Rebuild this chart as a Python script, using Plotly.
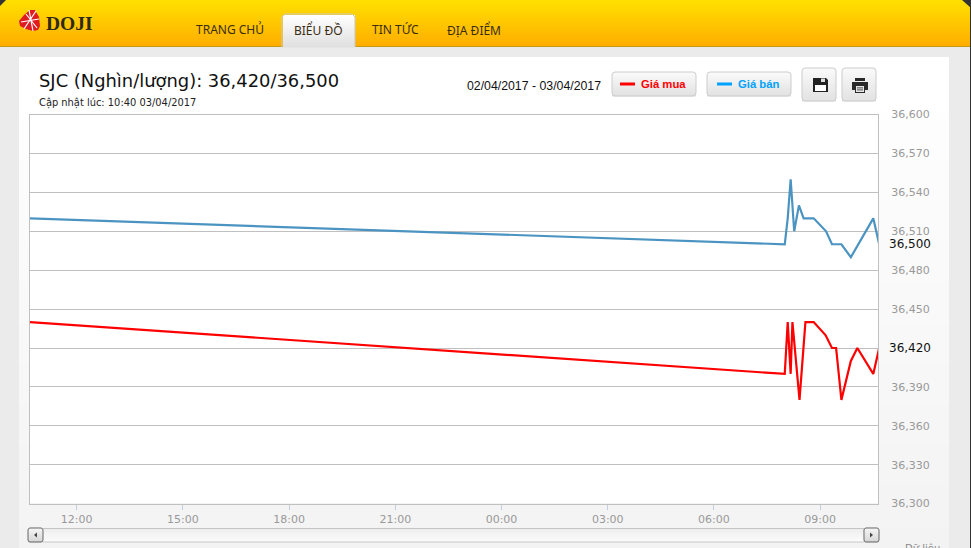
import plotly.graph_objects as go

W, H = 971, 548

# ---- data ----
sell_times = ["2017-04-02 10:40", "2017-04-03 08:00", "2017-04-03 08:05", "2017-04-03 08:10",
              "2017-04-03 08:16", "2017-04-03 08:24", "2017-04-03 08:32", "2017-04-03 08:49",
              "2017-04-03 09:10", "2017-04-03 09:20", "2017-04-03 09:36", "2017-04-03 09:52",
              "2017-04-03 10:30", "2017-04-03 10:40"]
sell_values = [36520, 36500, 36520, 36550, 36510, 36530, 36520, 36520,
               36510, 36500, 36500, 36490, 36520, 36500]
buy_times = ["2017-04-02 10:40", "2017-04-03 08:00", "2017-04-03 08:05", "2017-04-03 08:10",
             "2017-04-03 08:13", "2017-04-03 08:25", "2017-04-03 08:35", "2017-04-03 08:49",
             "2017-04-03 09:09", "2017-04-03 09:20", "2017-04-03 09:27", "2017-04-03 09:36",
             "2017-04-03 09:52", "2017-04-03 10:03", "2017-04-03 10:30", "2017-04-03 10:40"]
buy_values = [36440, 36400, 36440, 36400, 36440, 36380, 36440, 36440,
              36430, 36420, 36420, 36380, 36410, 36420, 36400, 36420]
y_ticks = [36300, 36330, 36360, 36390, 36420, 36450, 36480, 36510, 36540, 36570, 36600]
x_range = ["2017-04-02 10:41", "2017-04-03 10:38"]
nav_labels = ["TRANG CHỦ", "BIỂU ĐỒ", "TIN TỨC", "ĐỊA ĐIỂM"]
date_range = "02/04/2017 - 03/04/2017"
updated = "Cập nhật lúc: 10:40 03/04/2017"
legend_buy, legend_sell = "Giá mua", "Giá bán"

shapes, notes = [], []


def px(x):
    return x / W


def py(y):
    return 1 - y / H


def rect(x0, y0, x1, y1, fill, line=None, lw=1):
    shapes.append(dict(type="rect", xref="paper", yref="paper", layer="below",
                       x0=px(x0), x1=px(x1), y0=py(y0), y1=py(y1), fillcolor=fill,
                       line=dict(color=line or fill, width=lw if line else 0)))


def path(points, fill=None, line=None, lw=1, close=True):
    d = "M " + " L ".join(f"{px(a):.5f},{py(b):.5f}" for a, b in points) + (" Z" if close else "")
    shapes.append(dict(type="path", xref="paper", yref="paper", layer="below", path=d,
                       fillcolor=fill or "rgba(0,0,0,0)",
                       line=dict(color=line or "rgba(0,0,0,0)", width=lw if line else 0)))


def mix(c0, c1, t):
    return "rgb(" + ",".join(str(round(a + (b - a) * t)) for a, b in zip(c0, c1)) + ")"


def grad(x0, y0, x1, y1, c0, c1):
    n = max(1, int(y1 - y0))
    step = (y1 - y0) / n
    for i in range(n):
        rect(x0, y0 + i * step, x1, y0 + (i + 1) * step + 0.4, mix(c0, c1, i / max(1, n - 1)))


def rounded(x0, y0, x1, y1, r, line, lw=1):
    c = 0.3 * r
    pts = [(x0 + r, y0), (x1 - r, y0), (x1 - c, y0 + c), (x1, y0 + r), (x1, y1 - r), (x1 - c, y1 - c),
           (x1 - r, y1), (x0 + r, y1), (x0 + c, y1 - c), (x0, y1 - r), (x0, y0 + r), (x0 + c, y0 + c)]
    path(pts, line=line, lw=lw)


def text(x, y, s, size, color, family="DejaVu Sans", anchor="left", bold=False):
    notes.append(dict(xref="paper", yref="paper", x=px(x), y=py(y), text=f"<b>{s}</b>" if bold else s,
                      showarrow=False, xanchor=anchor, yanchor="middle", align="left",
                      font=dict(size=size, color=color, family=family),
                      borderpad=0, borderwidth=0))


# page background and header
rect(0, 0, W, H, "#ebebeb")
grad(0, 0, W, 46, (255, 224, 0), (255, 174, 0))
rect(0, 46, W, 47, "#c99a10")
path([(0, 0), (6, 0), (0, 6)], fill="#333333")
path([(962, 0), (971, 0), (971, 8)], fill="#333333")
rect(970, 0, 971, H, "#333333")

# logo
path([(19, 21), (24, 15), (30, 10), (35, 10), (39, 17), (40, 26), (38, 30), (33, 31), (26, 29), (20, 26)],
     fill="#e11b22")
for a, b in [((21, 22), (39, 19)), ((29, 10), (33, 31)), ((36, 11), (24, 29)), ((26, 14), (37, 28))]:
    path([a, b], line="#ffffff", lw=1.2, close=False)
text(46, 24, "DOJI", 19.5, "#2e2a18", "Liberation Serif", bold=True)

# tabs
grad(283, 15, 355, 47, (255, 255, 255), (224, 224, 224))
path([(282, 47), (282, 17), (285, 14), (352, 14), (355, 17), (355, 47)], line="#c8c8c8", close=False)
for x, s in zip([229.5, 318, 395, 474], nav_labels):
    text(x, 30, s, 12, "#3b2c10", "Noto Sans", "center")

# content panel
grad(19, 57, 949, H, (255, 255, 255), (243, 243, 243))
rect(19, 57, 949, 112, "#ffffff")
rect(30, 114, 878, 503, "#ffffff")

# heading
text(39, 80.5, f"SJC (Nghìn/lượng): {buy_values[-1]:,}/{sell_values[-1]:,}", 17.9, "#111111")
text(39, 103.5, updated, 9.9, "#222222")
text(467, 86, date_range, 12.3, "#111111", "Liberation Sans")

# buttons
for x0, x1, y0, y1 in [(612, 696, 72, 96), (707, 791, 72, 96), (802, 836, 68, 101), (842, 876, 68, 101)]:
    grad(x0, y0, x1, y1, (250, 250, 250), (226, 226, 226))
    rounded(x0, y0, x1, y1, 3, "#cccccc")
rect(620, 82.5, 635, 85.5, "#ff0000")
text(641, 84, legend_buy, 11.3, "#ff0000", "Liberation Sans", bold=True)
rect(717, 82.5, 732, 85.5, "#00a2ff")
text(738, 84, legend_sell, 11.3, "#00a2ff", "Liberation Sans", bold=True)

# save icon
path([(813, 78), (826, 78), (828, 80), (828, 92), (813, 92)], fill="#222222")
rect(815, 85, 826, 91, "#ffffff")
rect(821, 78.5, 825, 82, "#dddddd")
# print icon
rect(855, 78, 865, 81, "#2a2a2a")
path([(852, 82), (868, 82), (868, 90), (852, 90)], fill="#2a2a2a")
rect(855, 86, 865, 93, "#2a2a2a")
rect(856, 86, 864, 92, "#e6e6e6")
for yy in (87.5, 89.5):
    rect(857, yy, 863, yy + 0.8, "#2a2a2a")

# scrollbar
grad(43, 529, 864, 542, (238, 238, 238), (252, 252, 252))
rect(43, 528, 864, 529, "#c4c4c4")
rect(43, 541.5, 864, 542.5, "#c4c4c4")
for x0, x1 in [(28, 43), (864, 879)]:
    grad(x0, 528, x1, 542, (245, 245, 245), (215, 215, 215))
    rounded(x0, 528, x1, 542, 2, "#666666")
path([(37, 532.5), (37, 537.5), (34, 535)], fill="#444444")
path([(870, 532.5), (870, 537.5), (873, 535)], fill="#444444")
text(922, 549, "Dữ liệu", 10, "#888888", "DejaVu Sans", "center")

# values attached to the last points replace their tick labels
latest = (buy_values[-1], sell_values[-1])
for v in latest:
    notes.append(dict(xref="paper", yref="y", x=px(888), y=v, text=f"{v:,}", showarrow=False,
                      xanchor="left", yanchor="middle",
                      font=dict(size=12, color="#111111", family="DejaVu Sans"), borderpad=0))
y_labels = ["" if v in latest else f"{v:,}" for v in y_ticks]

fig = go.Figure()
fig.add_trace(go.Scatter(x=sell_times, y=sell_values, mode="lines", name=legend_sell,
                         line=dict(color="#4b94c2", width=2.2)))
fig.add_trace(go.Scatter(x=buy_times, y=buy_values, mode="lines", name=legend_buy,
                         line=dict(color="#ff0000", width=2.2)))
fig.update_layout(
    width=W, height=H, margin=dict(l=0, r=0, t=0, b=0, autoexpand=False), showlegend=False,
    paper_bgcolor="#ebebeb", plot_bgcolor="rgba(0,0,0,0)", shapes=shapes, annotations=notes,
    font=dict(family="DejaVu Sans", size=11, color="#999999"),
    xaxis=dict(domain=[px(30), px(878)], type="date", range=x_range, dtick=10800000,
               tick0="2017-04-02 12:00", tickformat="%H:%M", showgrid=False, ticks="outside",
               ticklen=5, tickcolor="#c0d0e0", tickwidth=1, showline=True, linecolor="#c0c0c0",
               mirror=True, linewidth=1, zeroline=False, tickfont=dict(size=11, color="#999999")),
    yaxis=dict(domain=[py(503.6), py(114.6)], range=[y_ticks[0], y_ticks[-1]], tickvals=y_ticks,
               ticktext=y_labels, side="right", showgrid=True, gridcolor="#c0c0c0", gridwidth=1,
               ticks="", showline=True, linecolor="#c0c0c0", mirror=True, linewidth=1,
               zeroline=False, ticklabelstandoff=10, tickfont=dict(size=11, color="#999999")),
)
fig.write_html("out.html", config=dict(displayModeBar=False),
               post_script="document.body.style.margin='0';document.body.style.overflow='hidden';")
